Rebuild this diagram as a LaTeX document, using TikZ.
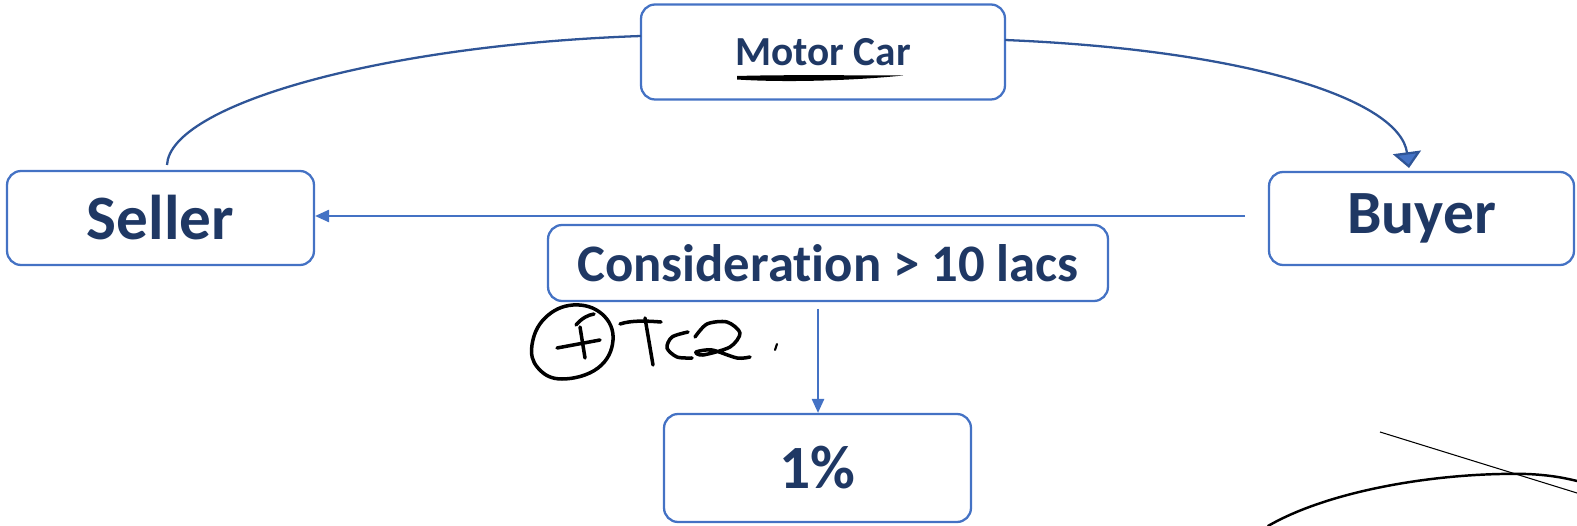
\documentclass[tikz,border=0pt]{standalone}
\usepackage{fontspec}
\setmainfont[Ligatures=NoCommon]{Carlito}
\usetikzlibrary{arrows.meta}
\definecolor{boxblue}{HTML}{4472C4}
\definecolor{textblue}{HTML}{1F3864}
\definecolor{curveblue}{HTML}{2F5597}
\tikzset{ink/.style={black,line width=2pt,line cap=round,line join=round}}

\begin{document}
\begin{tikzpicture}[x=0.02cm,y=-0.02cm]
		\useasboundingbox (0,0) rectangle (1577,526);
		\begin{scope}[every node/.style={draw=boxblue,line width=1.3pt,rounded corners=8pt,inner sep=0pt,text=textblue}]
		    \node[minimum width=7.28cm,minimum height=1.9cm,font=\bfseries\fontsize{23.5}{26}\selectfont] (car) at (823,52) {Motor Car};
		    \node[minimum width=6.14cm,minimum height=1.88cm,font=\bfseries\fontsize{36}{40}\selectfont] (seller) at (160.5,218) {Seller};
		    \node[minimum width=6.1cm,minimum height=1.86cm,font=\bfseries\fontsize{35}{40}\selectfont] (buyer) at (1421.5,218.5) {Buyer};
		    \node[minimum width=11.2cm,minimum height=1.52cm,font=\bfseries\fontsize{30}{34}\selectfont] (cons) at (828,263) {Considerat\kern0pt ion > 10 lacs};
		    \node[minimum width=6.14cm,minimum height=2.16cm,font=\bfseries\fontsize{35}{40}\selectfont] (pct) at (817.5,468) {1\%};
		\end{scope}
		
		\coordinate (b0) at (1245,216);
		\coordinate (c0) at (818,309);
		\coordinate (s0) at (167,165);
		\coordinate (c1) at (641,36);
		\coordinate (c2) at (1005,40);
		\coordinate (b1) at (1409,168);
		
		\begin{scope}[>={Triangle[length=8pt,width=7pt]},
		              every edge/.style={draw=boxblue,line width=1.1pt}]
		    	\path (b0) edge[->] (b0 -| seller.east);
		    	\path (c0) edge[->] (c0 |- pct.north);
			\draw[curveblue,line width=1.3pt] (s0) .. controls (170,105) and (380,45) .. (c1);
			\draw[curveblue,line width=1.3pt,-{Triangle[length=9pt,width=16pt,fill=boxblue]}] (c2) .. controls (1250,50) and (1400,100) .. (b1);
		\end{scope}
		
		% handwritten notes
		\fill (737,79.5) .. controls (790,83) and (860,80) .. (903,75.5) .. controls (860,75.5) and (790,74.5) .. (737,76) -- cycle;
		\draw[ink] plot[smooth cycle,tension=0.7] coordinates {(573,305) (602,314) (613,340) (598,368) (562,379) (538,368) (532,345) (545,318)};
		\draw[ink] (557,348) -- (600,340);
		\draw[ink] (576,325) .. controls (582,318) and (588,315) .. (594,314);
		\draw[ink] (580,327) -- (585,358);
		\draw[ink] (620,324) .. controls (632,320) and (648,321) .. (661,322);
		\draw[ink] (645,318) -- (653,365);
		\draw[ink] plot[smooth] coordinates {(688,332) (672,337) (667,348) (677,357) (692,358)};
		\draw[ink] plot[smooth] coordinates {(695,337) (707,324) (727,322) (740,333) (730,347) (703,355) (696,352) (712,350) (737,358) (750,357)};
		\draw[ink,line width=1.2pt] (777,344) -- (775,350);
		\draw[black,line width=0.6pt] (1380,432) -- (1577,493);
		\draw[ink,line width=1.4pt] (1268,526) .. controls (1330,490) and (1440,472) .. (1527,474) .. controls (1550,475) and (1565,478) .. (1577,481);
		\end{tikzpicture}
\end{document}
